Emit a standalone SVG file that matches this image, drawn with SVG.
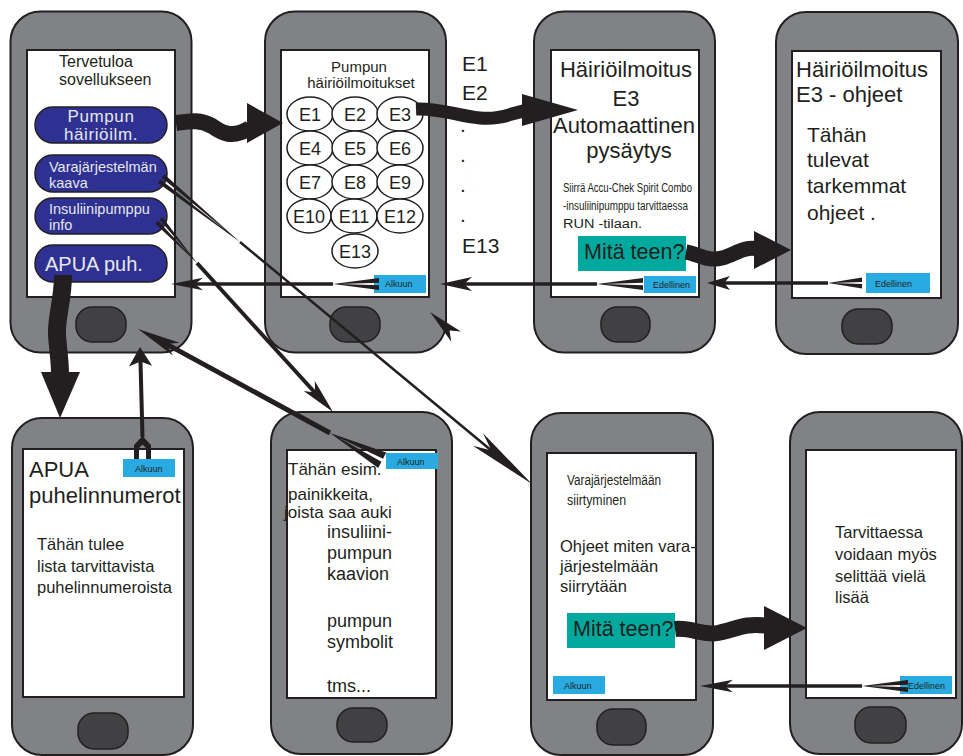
<svg xmlns="http://www.w3.org/2000/svg" xmlns:xlink="http://www.w3.org/1999/xlink" width="963" height="756" viewBox="0 0 963 756">
  <style>
    .body { fill: #808285; stroke: #231f20; stroke-width: 2; }
    .screen { fill: #ffffff; stroke: #231f20; stroke-width: 2; }
    .home { fill: #414042; stroke: #231f20; stroke-width: 1.5; }
    .pill { fill: #2e3192; stroke: #231f20; stroke-width: 1.5; }
    .pilltxt { fill: #e6e7e8; font-family: "Liberation Sans", Arial, sans-serif; }
    .txt { fill: #231f20; font-family: "Liberation Sans", Arial, sans-serif; }
    .ecode { fill: #ffffff; stroke: #231f20; stroke-width: 1.5; }
    .btn { fill: #29abe2; }
    .btntxt { fill: #231f20; font-family: "Liberation Sans", Arial, sans-serif; font-size: 9px; }
    .teal { fill: #00a99d; }
    .wave { fill: none; stroke: #231f20; }
    .ink { fill: #231f20; }
    .line { stroke: #231f20; fill: none; }
  </style>
  <defs>
    <!-- swept arrowhead, tip at origin pointing along +x -->
    <path id="head" d="M0,0 L-32,-7 L-24,0 L-32,7 Z"/>
    <!-- fletched tail, point at origin, opening along +x -->
    <path id="tail" d="M0,0 L46,-6 L46,-1.2 L7,0 L46,1.2 L46,6 Z"/>
  </defs>

  <!-- Start screen -->
  <g id="phone-start">
    <rect class="body" x="10.5" y="11.5" width="181" height="341" rx="30"/>
    <rect class="screen" x="27" y="50" width="148" height="247"/>
    <rect class="home" x="76" y="307" width="50" height="35" rx="16"/>
    <text class="txt" x="59" y="67" font-size="16">Tervetuloa</text>
    <text class="txt" x="59" y="85" font-size="16">sovellukseen</text>
    <rect class="pill" x="35" y="107" width="132" height="36" rx="18"/>
    <text class="pilltxt" x="101" y="122" font-size="17" letter-spacing="0.6" text-anchor="middle">Pumpun</text>
    <text class="pilltxt" x="101" y="140" font-size="17" letter-spacing="0.6" text-anchor="middle">häiriöilm.</text>
    <rect class="pill" x="35" y="155" width="132" height="37" rx="18"/>
    <text class="pilltxt" x="49" y="172" font-size="14.5">Varajärjestelmän</text>
    <text class="pilltxt" x="49" y="188" font-size="14.5">kaava</text>
    <rect class="pill" x="35" y="198" width="132" height="36" rx="18"/>
    <text class="pilltxt" x="49" y="214" font-size="14.5">Insuliinipumppu</text>
    <text class="pilltxt" x="49" y="230" font-size="14.5">info</text>
    <rect class="pill" x="35" y="245" width="132" height="37" rx="18"/>
    <text class="pilltxt" x="45" y="271" font-size="20">APUA puh.</text>
  </g>

  <!-- Error code list -->
  <g id="phone-codes">
    <rect class="body" x="265" y="11.5" width="181" height="341" rx="30"/>
    <rect class="screen" x="281" y="50" width="148" height="247"/>
    <rect class="home" x="330" y="307" width="50" height="35" rx="16"/>
    <text class="txt" x="359" y="72" font-size="15" text-anchor="middle">Pumpun</text>
    <text class="txt" x="361" y="88" font-size="15" text-anchor="middle">häiriöilmoitukset</text>
    <g font-size="18" text-anchor="middle">
      <ellipse class="ecode" cx="310" cy="114" rx="23" ry="17"/><text class="txt" x="310" y="121">E1</text>
      <ellipse class="ecode" cx="355" cy="114" rx="23" ry="17"/><text class="txt" x="355" y="121">E2</text>
      <ellipse class="ecode" cx="400" cy="114" rx="23" ry="17"/><text class="txt" x="400" y="121">E3</text>
      <ellipse class="ecode" cx="310" cy="148" rx="23" ry="17"/><text class="txt" x="310" y="155">E4</text>
      <ellipse class="ecode" cx="355" cy="148" rx="23" ry="17"/><text class="txt" x="355" y="155">E5</text>
      <ellipse class="ecode" cx="400" cy="148" rx="23" ry="17"/><text class="txt" x="400" y="155">E6</text>
      <ellipse class="ecode" cx="310" cy="182" rx="23" ry="17"/><text class="txt" x="310" y="189">E7</text>
      <ellipse class="ecode" cx="355" cy="182" rx="23" ry="17"/><text class="txt" x="355" y="189">E8</text>
      <ellipse class="ecode" cx="400" cy="182" rx="23" ry="17"/><text class="txt" x="400" y="189">E9</text>
      <ellipse class="ecode" cx="309" cy="216" rx="22" ry="17"/><text class="txt" x="309" y="223">E10</text>
      <ellipse class="ecode" cx="354" cy="216" rx="23" ry="17"/><text class="txt" x="354" y="223">E11</text>
      <ellipse class="ecode" cx="400" cy="216" rx="23" ry="17"/><text class="txt" x="400" y="223">E12</text>
      <ellipse class="ecode" cx="355" cy="251" rx="23" ry="17"/><text class="txt" x="355" y="258">E13</text>
    </g>
    <rect class="btn" x="374" y="275" width="52" height="18"/>
    <text class="btntxt" x="385" y="287">Alkuun</text>
  </g>

  <!-- Code list legend -->
  <g id="code-legend" font-size="21">
    <text class="txt" x="462" y="71">E1</text>
    <text class="txt" x="462" y="100">E2</text>
    <text class="txt" x="460" y="132">.</text>
    <text class="txt" x="460" y="162">.</text>
    <text class="txt" x="460" y="192">.</text>
    <text class="txt" x="460" y="222">.</text>
    <text class="txt" x="462" y="253">E13</text>
  </g>

  <!-- E3 message -->
  <g id="phone-e3">
    <rect class="body" x="534" y="11.5" width="181" height="341" rx="30"/>
    <rect class="screen" x="551" y="50" width="148" height="247"/>
    <rect class="home" x="601" y="307" width="49" height="35" rx="16"/>
    <g font-size="22" text-anchor="middle">
      <text class="txt" x="626" y="77">Häiriöilmoitus</text>
      <text class="txt" x="626" y="106">E3</text>
      <text class="txt" x="624" y="133">Automaattinen</text>
      <text class="txt" x="629" y="158">pysäytys</text>
    </g>
    <text class="txt" x="563" y="192" font-size="12" textLength="129" lengthAdjust="spacingAndGlyphs">Siirrä Accu-Chek Spirit Combo</text>
    <text class="txt" x="563" y="210" font-size="12" textLength="125" lengthAdjust="spacingAndGlyphs">-insuliinipumppu tarvittaessa</text>
    <text class="txt" x="563" y="228" font-size="12" textLength="79" lengthAdjust="spacingAndGlyphs">RUN -tilaan.</text>
    <rect class="teal" x="578" y="236" width="108" height="35"/>
    <text class="txt" x="584" y="259" font-size="21.5">Mitä teen?</text>
    <rect class="btn" x="644" y="276" width="52" height="17"/>
    <text class="btntxt" x="653" y="288" font-size="8.5">Edellinen</text>
  </g>

  <!-- E3 instructions -->
  <g id="phone-e3-help">
    <rect class="body" x="776" y="12" width="182" height="342" rx="30"/>
    <rect class="screen" x="792" y="51" width="149" height="247"/>
    <rect class="home" x="842" y="309" width="50" height="35" rx="16"/>
    <text class="txt" x="796" y="77" font-size="22">Häiriöilmoitus</text>
    <text class="txt" x="796" y="102" font-size="22">E3 - ohjeet</text>
    <g font-size="21">
      <text class="txt" x="807" y="142">Tähän</text>
      <text class="txt" x="807" y="167">tulevat</text>
      <text class="txt" x="807" y="193">tarkemmat</text>
      <text class="txt" x="807" y="220">ohjeet .</text>
    </g>
    <rect class="btn" x="866" y="273" width="64" height="20"/>
    <text class="btntxt" x="875" y="287" font-size="11.5">Edellinen</text>
  </g>

  <!-- Phone numbers -->
  <g id="phone-numbers">
    <rect class="body" x="12" y="418" width="181" height="337" rx="30"/>
    <rect class="screen" x="23" y="449" width="161" height="248"/>
    <rect class="home" x="78" y="713" width="50" height="36" rx="16"/>
    <text class="txt" x="29" y="477" font-size="22">APUA</text>
    <text class="txt" x="29" y="503" font-size="22">puhelinnumerot</text>
    <g font-size="16.5">
      <text class="txt" x="37" y="550">Tähän tulee</text>
      <text class="txt" x="37" y="572">lista tarvittavista</text>
      <text class="txt" x="37" y="593">puhelinnumeroista</text>
    </g>
    <rect class="btn" x="123" y="459" width="52" height="18"/>
    <text class="btntxt" x="135" y="472">Alkuun</text>
  </g>

  <!-- Pump info -->
  <g id="phone-info">
    <rect class="body" x="271" y="412" width="181" height="342" rx="30"/>
    <rect class="screen" x="287" y="450" width="149" height="248"/>
    <rect class="home" x="337" y="708" width="50" height="34" rx="16"/>
    <g font-size="17">
      <text class="txt" x="288" y="475">Tähän esim.</text>
      <text class="txt" x="288" y="500">painikkeita,</text>
      <text class="txt" x="284" y="518">joista saa auki</text>
    </g>
    <g font-size="18">
      <text class="txt" x="327" y="538">insuliini-</text>
      <text class="txt" x="327" y="559">pumpun</text>
      <text class="txt" x="327" y="580">kaavion</text>
      <text class="txt" x="327" y="627">pumpun</text>
      <text class="txt" x="327" y="648">symbolit</text>
      <text class="txt" x="327" y="692">tms...</text>
    </g>
    <rect class="btn" x="386" y="453" width="52" height="16"/>
    <text class="btntxt" x="397" y="465">Alkuun</text>
  </g>

  <!-- Backup system -->
  <g id="phone-backup">
    <rect class="body" x="531" y="413" width="182" height="342" rx="30"/>
    <rect class="screen" x="547" y="453" width="149" height="247"/>
    <rect class="home" x="597" y="709" width="49" height="36" rx="16"/>
    <text class="txt" x="567" y="485" font-size="14" textLength="94" lengthAdjust="spacingAndGlyphs">Varajärjestelmään</text>
    <text class="txt" x="567" y="505" font-size="14" textLength="59" lengthAdjust="spacingAndGlyphs">siirtyminen</text>
    <g font-size="16.5">
      <text class="txt" x="560" y="552">Ohjeet miten vara-</text>
      <text class="txt" x="560" y="572">järjestelmään</text>
      <text class="txt" x="560" y="592">siirrytään</text>
    </g>
    <rect class="teal" x="567" y="613" width="108" height="35"/>
    <text class="txt" x="573" y="636" font-size="21.5">Mitä teen?</text>
    <rect class="btn" x="553" y="676" width="52" height="18"/>
    <text class="btntxt" x="564" y="689">Alkuun</text>
  </g>

  <!-- Further explanation -->
  <g id="phone-more">
    <rect class="body" x="790" y="412" width="172" height="342" rx="30"/>
    <rect class="screen" x="806" y="450" width="150" height="248"/>
    <rect class="home" x="855" y="707" width="51" height="36" rx="16"/>
    <g font-size="16.5">
      <text class="txt" x="835" y="538">Tarvittaessa</text>
      <text class="txt" x="835" y="560">voidaan myös</text>
      <text class="txt" x="835" y="582">selittää vielä</text>
      <text class="txt" x="835" y="603">lisää</text>
    </g>
    <rect class="btn" x="900" y="676" width="52" height="18"/>
    <text class="btntxt" x="908" y="689">Edellinen</text>
  </g>

  <!-- Connectors -->
  <g id="connectors">
    <!-- forward moves: thick wavy arrows -->
    <path class="wave" stroke-width="16" d="M176,123 C190,121 200,119 212,126 C222,133 232,139 250,128"/>
    <polygon class="ink" points="247,103 283,123 247,143"/>

    <path class="wave" stroke-width="13" d="M416,109 C440,108 458,116 480,118 C500,120 512,113 528,110"/>
    <polygon class="ink" points="522,94 578,110 522,126"/>

    <path class="wave" stroke-width="15" d="M686,252 C698,254 708,262 722,258 C736,254 744,246 758,249"/>
    <polygon class="ink" points="754,231 791,250 754,269"/>

    <path class="wave" stroke-width="16" d="M675,629 C692,627 702,636 718,633 C734,630 746,622 768,626"/>
    <polygon class="ink" points="764,606 807,628 764,650"/>

    <path class="wave" stroke-width="18" d="M63,275 C63,300 56,318 57,335 C58,350 60,360 60,374"/>
    <polygon class="ink" points="41,372 80,372 60,418"/>

    <!-- back moves: straight arrows with fletched tails -->
    <line class="line" stroke-width="4" x1="142.5" y1="437" x2="140.4" y2="358"/>
    <use xlink:href="#head" class="ink" transform="translate(140,347) rotate(-91.6) scale(0.6,1.65)"/>
    <path class="ink" d="M142.5,436 L151,445 L151,459 L146,459 L146,448 L142.5,444.5 L139,448 L139,459 L134,459 L134,445 Z"/>

    <line class="line" stroke-width="3.5" x1="333" y1="284" x2="191" y2="284"/>
    <use xlink:href="#head" class="ink" transform="translate(171,284) rotate(180) scale(1,0.9)"/>
    <use xlink:href="#tail" class="ink" transform="translate(333,284)"/>

    <line class="line" stroke-width="3.5" x1="597" y1="284" x2="460" y2="284"/>
    <use xlink:href="#head" class="ink" transform="translate(440,284) rotate(180)"/>
    <use xlink:href="#tail" class="ink" transform="translate(597,284)"/>

    <line class="line" stroke-width="3.5" x1="828" y1="283" x2="722" y2="283"/>
    <use xlink:href="#head" class="ink" transform="translate(707,283) rotate(180) scale(0.72,1)"/>
    <use xlink:href="#tail" class="ink" transform="translate(828,283) scale(0.74,0.9)"/>

    <line class="line" stroke-width="3.5" x1="862" y1="686" x2="720" y2="686"/>
    <use xlink:href="#head" class="ink" transform="translate(700,686) rotate(180) scale(1.03,0.9)"/>
    <use xlink:href="#tail" class="ink" transform="translate(862,686)"/>

    <line class="line" stroke-width="5" x1="330" y1="433" x2="162" y2="341.6"/>
    <use xlink:href="#head" class="ink" transform="translate(138,329) rotate(207.75) scale(1.35,1.03)"/>
    <use xlink:href="#tail" class="ink" transform="translate(330,433) rotate(27.5) scale(1.28,1.45)"/>

    <!-- menu buttons to their pages -->
    <line class="line" stroke-width="2.5" x1="240" y1="242" x2="498" y2="456"/>
    <use xlink:href="#head" class="ink" transform="translate(532,484) rotate(39.5) scale(2.19,1.15)"/>
    <use xlink:href="#tail" class="ink" transform="translate(240,242) rotate(218.8) scale(2.2,0.9)"/>

    <line class="line" stroke-width="4" x1="197" y1="263" x2="318" y2="396"/>
    <use xlink:href="#head" class="ink" transform="translate(333,412) rotate(47.6) scale(1.1,1.07)"/>
    <use xlink:href="#tail" class="ink" transform="translate(197,263) rotate(228.2) scale(1.24,0.8)"/>

    <use xlink:href="#head" class="ink" transform="translate(430,312) rotate(223.3) scale(1.12,1)"/>
  </g>
</svg>
